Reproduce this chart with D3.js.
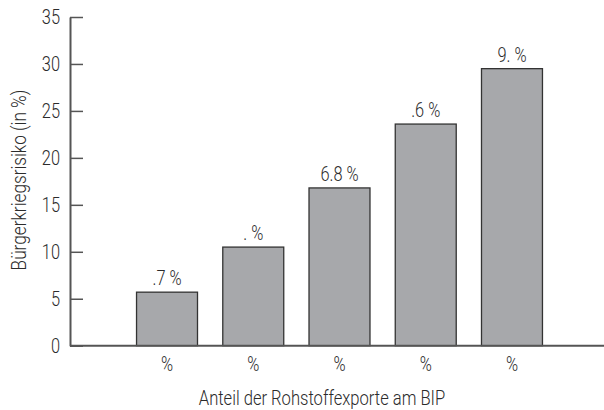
<!DOCTYPE html>
<html>
<head>
<meta charset="utf-8">
<script src="https://cdn.jsdelivr.net/npm/d3@7"></script>
<style>
  body { margin: 0; background: #fff; }
  svg text { font-family: "Roboto", "Liberation Sans", sans-serif; font-weight: 300; fill: #2b2b2b; }
</style>
</head>
<body>
<div id="chart"></div>
<script>
// categories (tick labels as printed) and values
var categories = ["%", "%", "%", "%", "%"];
var values = [5.7, 10.5, 16.8, 23.6, 29.5];
var barLabels = [".7 %", ". %", "6.8 %", ".6 %", "9. %"];
var yTicks = [0, 5, 10, 15, 20, 25, 30, 35];

var width = 604, height = 410;
// squeeze text horizontally, the original uses a condensed face
var sx = 0.82;

var svg = d3.select("#chart").append("svg")
    .attr("width", width)
    .attr("height", height);

var yScale = d3.scaleLinear()
    .domain([0, 35])
    .range([345.7, 17]);

// band per category, index used as key because labels repeat
var xScale = d3.scaleBand()
    .domain(d3.range(categories.length))
    .range([123.9, 555.1])
    .paddingInner(0.293)
    .paddingOuter(0.1465);

//y axis
var yAxis = d3.axisLeft(yScale)
    .tickValues(yTicks)
    .tickSizeInner(-13)
    .tickSizeOuter(0)
    .tickPadding(10 / sx);

var gy = svg.append("g")
    .attr("transform", "translate(70,0)")
    .call(yAxis);
gy.select(".domain").attr("stroke", "#555").attr("stroke-width", 2);
gy.selectAll(".tick line").attr("stroke", "#555").attr("stroke-width", 1.5);
gy.selectAll(".tick text")
    .style("font-size", "20px")
    .style("font-family", null)
    .attr("font-family", null)
    .attr("fill", "#2b2b2b")
    .attr("transform", "scale(" + sx + ",1)");

//bars
svg.selectAll(".bar")
    .data(values).enter()
    .append("rect")
    .attr("class", "bar")
    .attr("x", function (d, i) { return xScale(i); })
    .attr("y", function (d) { return yScale(d); })
    .attr("width", xScale.bandwidth())
    .attr("height", function (d) { return yScale(0) - yScale(d); })
    .attr("fill", "#a7a8ab")
    .attr("stroke", "#333")
    .attr("stroke-width", 1.3);

//value labels over bars
svg.selectAll(".lbl")
    .data(values).enter()
    .append("text")
    .attr("class", "lbl")
    .attr("transform", function (d, i) {
        return "translate(" + (xScale(i) + xScale.bandwidth() / 2) + "," + (yScale(d) - 7) + ") scale(" + sx + ",1)";
    })
    .attr("text-anchor", "middle")
    .style("font-size", "20px")
    .text(function (d, i) { return barLabels[i]; });

//x axis baseline
svg.append("line")
    .attr("x1", 70).attr("x2", width)
    .attr("y1", yScale(0)).attr("y2", yScale(0))
    .attr("stroke", "#555")
    .attr("stroke-width", 2);

//x tick labels
svg.selectAll(".xt")
    .data(categories).enter()
    .append("text")
    .attr("class", "xt")
    .attr("transform", function (d, i) {
        return "translate(" + (xScale(i) + xScale.bandwidth() / 2) + ",371) scale(" + sx + ",1)";
    })
    .attr("text-anchor", "middle")
    .style("font-size", "20px")
    .text(function (d) { return d; });

//axis titles
svg.append("text")
    .attr("transform", "translate(322,405) scale(0.83,1)")
    .attr("text-anchor", "middle")
    .style("font-size", "20px")
    .text("Anteil der Rohstoffexporte am BIP");

svg.append("text")
    .attr("transform", "translate(26,180) rotate(-90) scale(0.86,1)")
    .attr("text-anchor", "middle")
    .style("font-size", "20px")
    .text("Bürgerkriegsrisiko (in %)");
</script>
</body>
</html>
